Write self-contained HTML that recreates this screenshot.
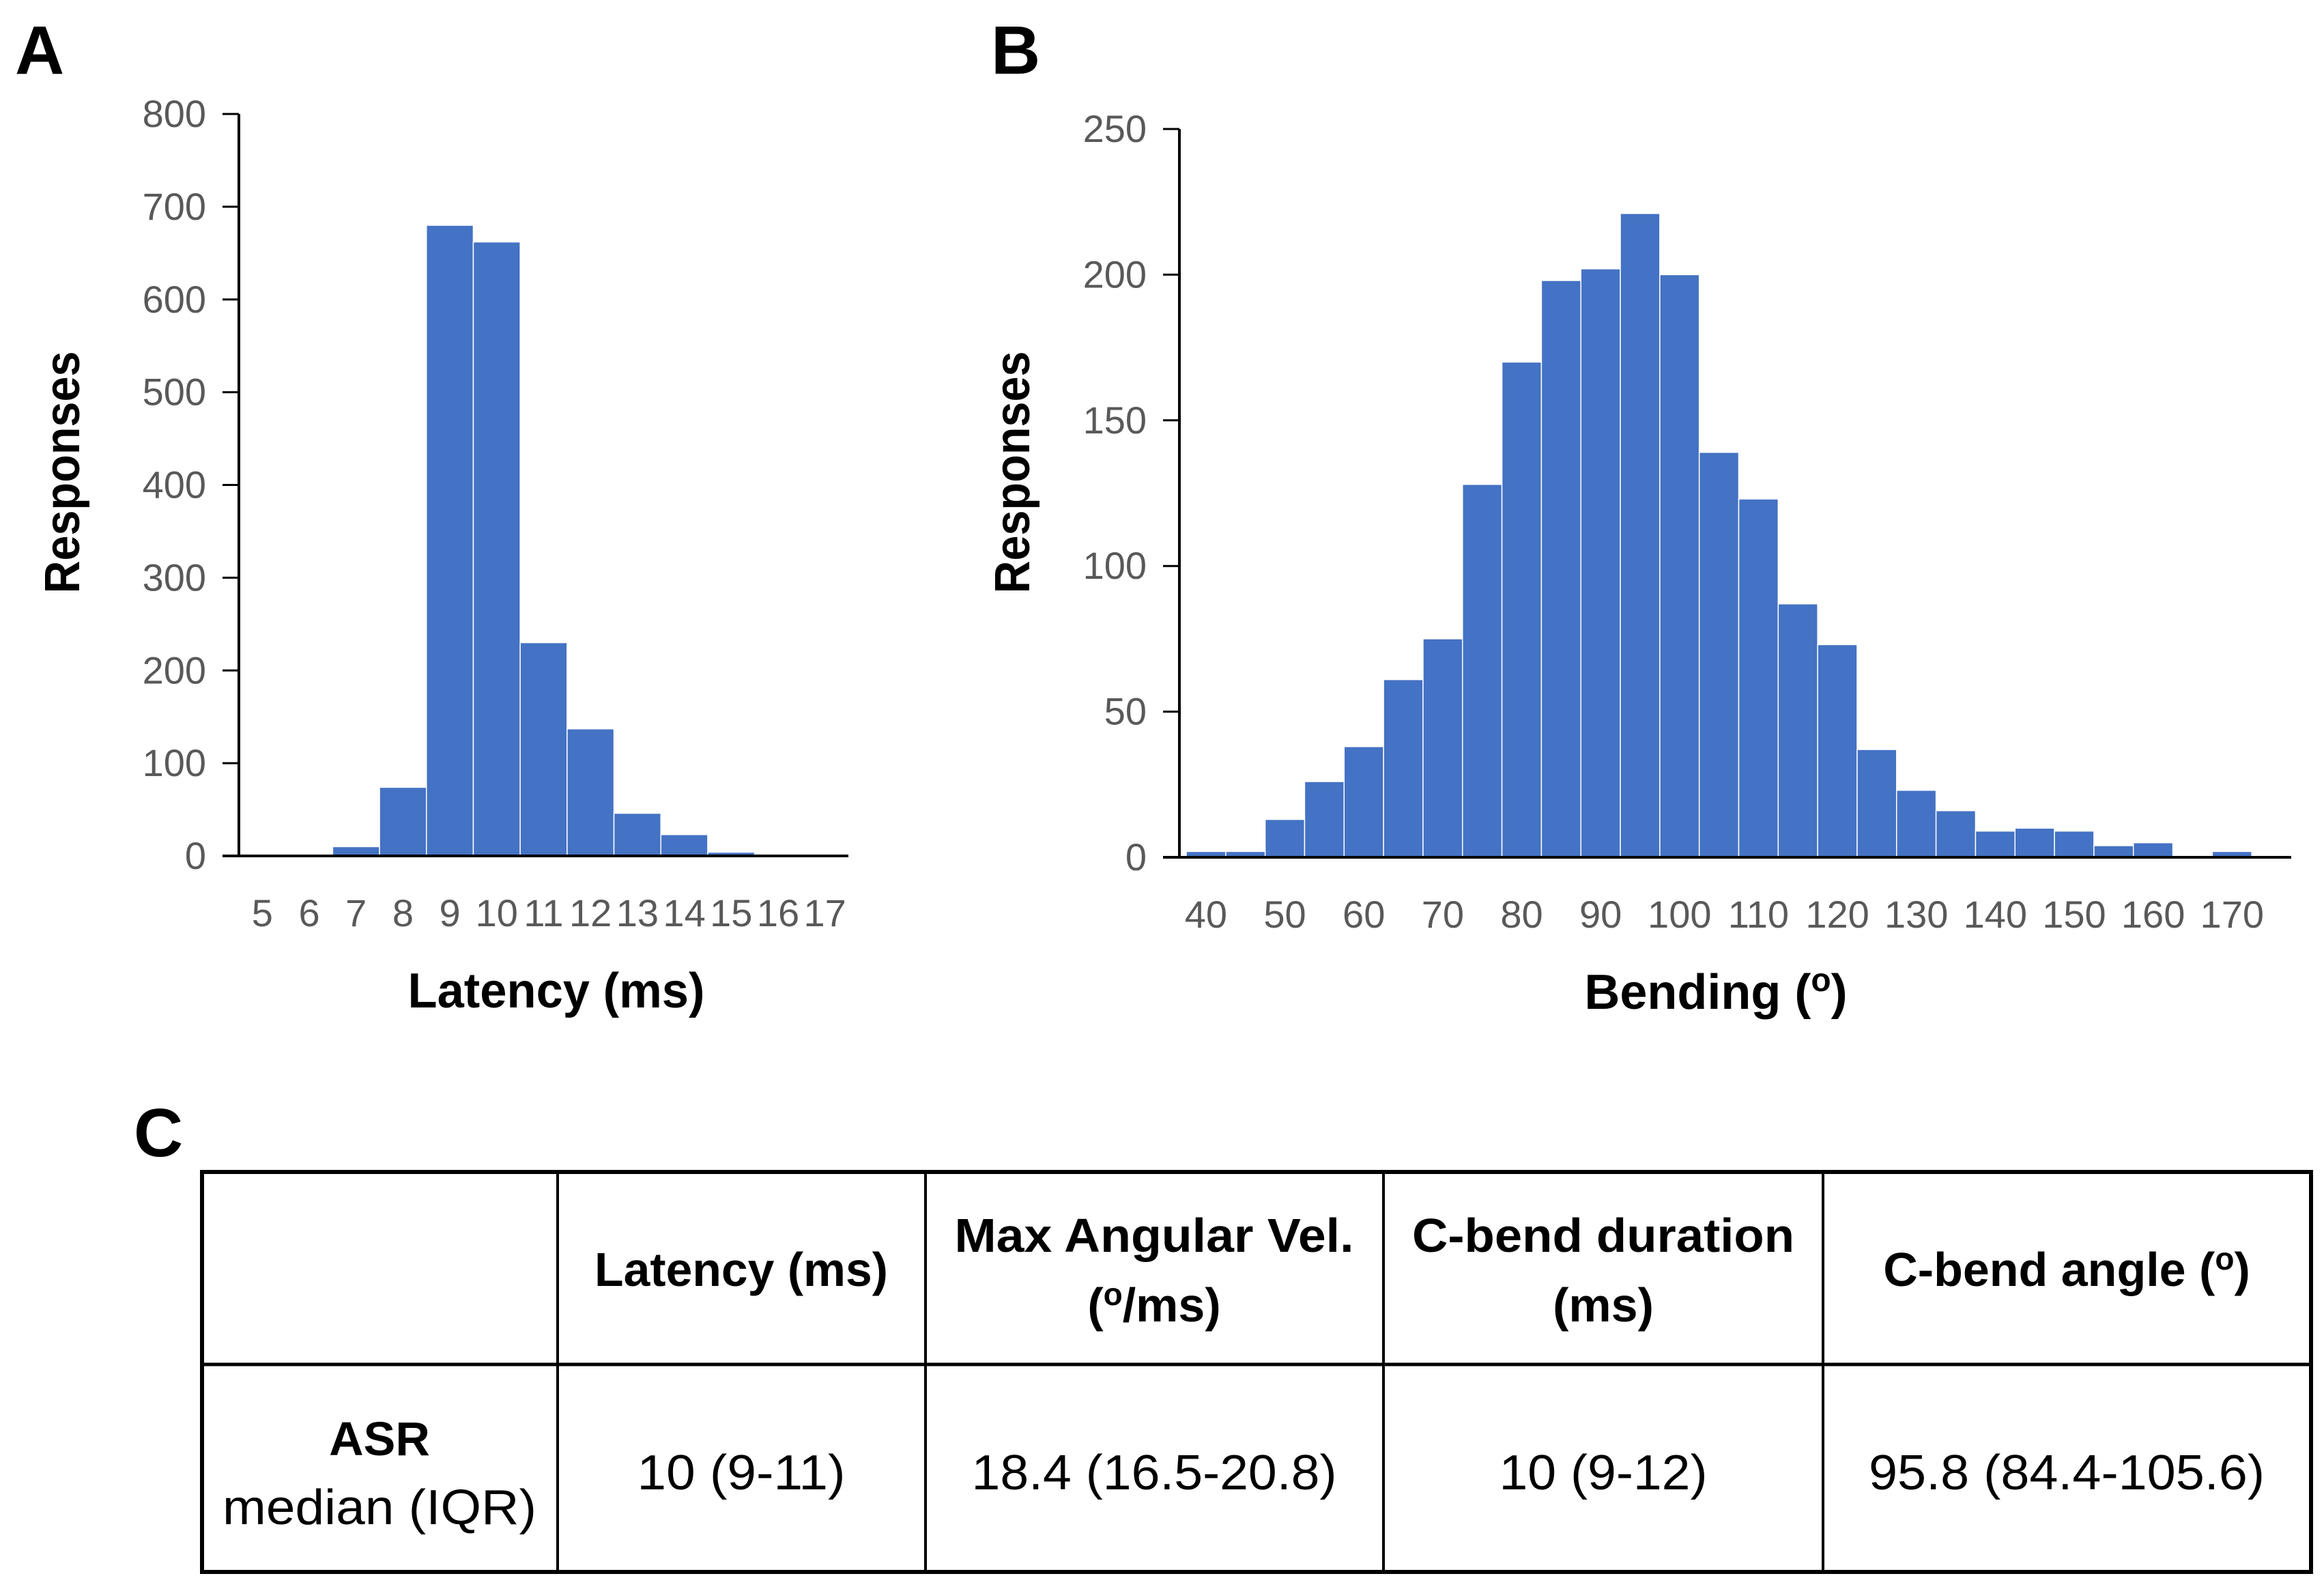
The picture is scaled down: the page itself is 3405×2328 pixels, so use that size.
<!DOCTYPE html>
<html><head><meta charset="utf-8"><style>
html,body{margin:0;padding:0;background:#fff;}
svg{display:block;}
text{font-family:"Liberation Sans Narrow","Liberation Sans",sans-serif;}
.tick{fill:#595959;font-size:56px;}
.title{font-weight:bold;font-size:72px;fill:#000;}
.panel{font-weight:bold;font-size:100px;fill:#000;font-family:"Liberation Sans",sans-serif;}
.hd{font-weight:bold;font-size:70px;fill:#000;}
.cell{font-size:72px;fill:#000;}
</style></head><body>
<svg id="fig" width="3405" height="2328" viewBox="0 0 3405 2328" xmlns="http://www.w3.org/2000/svg">
<text class="panel" x="22" y="108">A</text>
<text class="panel" x="1452" y="108">B</text>
<text class="panel" x="196" y="1694">C</text>
<g id="chartA"></g>
<g id="chartB"></g>

<g stroke="#000" fill="none">
<rect x="296" y="1717" width="3090" height="586" stroke-width="6"/>
<line x1="296" y1="1999" x2="3386" y2="1999" stroke-width="5"/>
<line x1="817" y1="1717" x2="817" y2="2303" stroke-width="4"/>
<line x1="1356" y1="1717" x2="1356" y2="2303" stroke-width="4"/>
<line x1="2027" y1="1717" x2="2027" y2="2303" stroke-width="4"/>
<line x1="2671" y1="1717" x2="2671" y2="2303" stroke-width="4"/>
</g>
<g text-anchor="middle">
<text class="hd" x="1086" y="1884" textLength="430" lengthAdjust="spacingAndGlyphs">Latency (ms)</text>
<text class="hd" x="1691" y="1834" textLength="585" lengthAdjust="spacingAndGlyphs">Max Angular Vel.</text>
<text class="hd" x="1691" y="1936">(<tspan font-size="46" dy="-24">o</tspan><tspan dy="24">/ms)</tspan></text>
<text class="hd" x="2349" y="1834" textLength="560" lengthAdjust="spacingAndGlyphs">C-bend duration</text>
<text class="hd" x="2349" y="1936">(ms)</text>
<text class="hd" x="3028" y="1884">C-bend angle (<tspan font-size="46" dy="-24">o</tspan><tspan dy="24">)</tspan></text>
<text class="hd" x="556" y="2132">ASR</text>
<text class="cell" x="556" y="2233" textLength="460" lengthAdjust="spacingAndGlyphs">median  (IQR)</text>
<text class="cell" x="1086" y="2182" textLength="305" lengthAdjust="spacingAndGlyphs">10 (9-11)</text>
<text class="cell" x="1691" y="2182" textLength="535" lengthAdjust="spacingAndGlyphs">18.4 (16.5-20.8)</text>
<text class="cell" x="2349" y="2182" textLength="305" lengthAdjust="spacingAndGlyphs">10 (9-12)</text>
<text class="cell" x="3028" y="2182" textLength="580" lengthAdjust="spacingAndGlyphs">95.8 (84.4-105.6)</text>
</g>
</svg>
<script>
const latencyBins = [5,6,7,8,9,10,11,12,13,14,15,16,17];
const latencyCounts = [0,2,10,74,680,662,230,137,46,23,4,1,0];
const latencyTicks = [0,100,200,300,400,500,600,700,800];
const bendingBins = [40,45,50,55,60,65,70,75,80,85,90,95,100,105,110,115,120,125,130,135,140,145,150,155,160,165,170,175];
const bendingCounts = [2,2,13,26,38,61,75,128,170,198,202,221,200,139,123,87,73,37,23,16,9,10,9,4,5,0,2,0];
const bendingTickLabels = [40,50,60,70,80,90,100,110,120,130,140,150,160,170];
const bendingTicks = [0,50,100,150,200,250];
const NS = "http://www.w3.org/2000/svg";
function mk(tag, attrs, parent){const e=document.createElementNS(NS,tag);for(const k in attrs)e.setAttribute(k,attrs[k]);parent.appendChild(e);return e;}

function drawHist(g, cfg){
  const {bins,counts,ticks,xLabels,axisX,x0,x1,y0,y1,ymax,xTitleX,yTitleX,yTitleY} = cfg;
  const n = bins.length, bw = (x1-x0)/n;
  const ys = v => y0 - v/ymax*(y0-y1);
  counts.forEach((c,i)=>{
    if(c<=0) return;
    const r = mk('rect',{x:x0+i*bw,y:ys(c),width:bw,height:y0-ys(c),fill:'#4472C4',stroke:'#ffffff','stroke-width':1.5},g);
    
    
  });
  const ya = mk('line',{x1:axisX,y1:y1,x2:axisX,y2:y0,stroke:'#000','stroke-width':4},g);
  
  
  const xa = mk('line',{x1:axisX-24,y1:y0,x2:x1,y2:y0,stroke:'#000','stroke-width':4},g);
  
  
  ticks.forEach(t=>{
    const tk = mk('line',{x1:axisX-24,y1:ys(t),x2:axisX,y2:ys(t),stroke:'#000','stroke-width':3},g);
    
    
    const tx = mk('text',{x:axisX-48,y:ys(t)+19,'text-anchor':'end',class:'tick'},g);
    tx.textContent = t;
    
    
  });
  xLabels.forEach((lab)=>{
    const i = bins.indexOf(lab);
    const tx = mk('text',{x:x0+(i+0.5)*bw,y:y0+103,'text-anchor':'middle',class:'tick'},g);
    tx.textContent = lab;
    
    
  });
  const yt = mk('text',{x:0,y:0,'text-anchor':'middle',class:'title',transform:`translate(${yTitleX},${yTitleY}) rotate(-90)`,textLength:355,lengthAdjust:'spacingAndGlyphs'},g);
  yt.textContent = 'Responses';
  
  
  const xt = mk('text',{x:xTitleX,y:y0+222,'text-anchor':'middle',class:'title'},g);
  
  
  return xt;
}
const xtA = drawHist(document.getElementById('chartA'),{bins:latencyBins,counts:latencyCounts,ticks:latencyTicks,xLabels:latencyBins,axisX:350,x0:350,x1:1243,y0:1254,y1:167,ymax:800,xTitleX:815,yTitleX:116,yTitleY:692});
xtA.textContent = 'Latency (ms)';
xtA.setAttribute('textLength','435');
xtA.setAttribute('lengthAdjust','spacingAndGlyphs');
const xtB = drawHist(document.getElementById('chartB'),{bins:bendingBins,counts:bendingCounts,ticks:bendingTicks,xLabels:bendingTickLabels,axisX:1728,x0:1738,x1:3357,y0:1256,y1:189,ymax:250,xTitleX:2514,yTitleX:1508,yTitleY:692});
xtB.innerHTML = 'Bending (<tspan font-size="48" dy="-26">o</tspan><tspan dy="26">)</tspan>';
</script>
</body></html>
